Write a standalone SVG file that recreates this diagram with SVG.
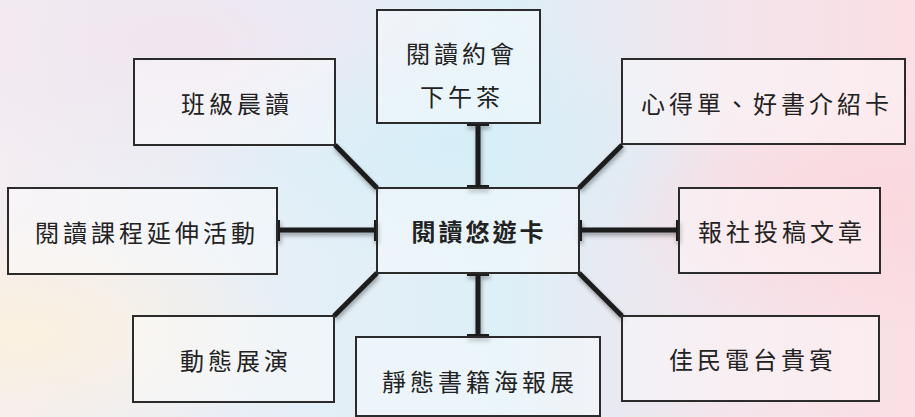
<svg xmlns="http://www.w3.org/2000/svg" width="915" height="417" viewBox="0 0 915 417">
<defs>
<linearGradient id="bg" x1="0" y1="0" x2="1" y2="0">
<stop offset="0" stop-color="#f4edf2"/>
<stop offset="0.35" stop-color="#e4eff7"/>
<stop offset="0.55" stop-color="#ddeff7"/>
<stop offset="0.8" stop-color="#f4e4eb"/>
<stop offset="1" stop-color="#fadfe4"/>
</linearGradient>
<radialGradient id="rTL" cx="0.2" cy="0.1" r="0.35">
<stop offset="0" stop-color="#f1e4ef" stop-opacity="0.9"/>
<stop offset="1" stop-color="#f1e4ef" stop-opacity="0"/>
</radialGradient>
<radialGradient id="rBL" cx="0.02" cy="0.8" r="0.3">
<stop offset="0" stop-color="#fbf1df" stop-opacity="1"/>
<stop offset="1" stop-color="#fbf1df" stop-opacity="0"/>
</radialGradient>
<radialGradient id="rC" cx="0.5" cy="0.35" r="0.3">
<stop offset="0" stop-color="#d6eef8" stop-opacity="0.9"/>
<stop offset="1" stop-color="#d6eef8" stop-opacity="0"/>
</radialGradient>
<radialGradient id="rR" cx="0.97" cy="0.5" r="0.3">
<stop offset="0" stop-color="#fad8de" stop-opacity="1"/>
<stop offset="1" stop-color="#fad8de" stop-opacity="0"/>
</radialGradient>
<filter id="sh" x="-20%" y="-50%" width="140%" height="200%">
<feDropShadow dx="1" dy="3" stdDeviation="2" flood-color="#000" flood-opacity="0.35"/>
</filter>
</defs>
<style>
.box{fill:#ffffff;fill-opacity:0.4;stroke:#2b2b2b;stroke-width:2}
.t{font-family:"Noto Sans CJK TC","Noto Sans CJK SC",sans-serif;font-size:24px;fill:#222;letter-spacing:4px;text-anchor:middle;dominant-baseline:central}
.tb{font-weight:bold;letter-spacing:3px}
.c{stroke:#1c1c1c;stroke-width:5;fill:none}
.cap{stroke:#1c1c1c;stroke-width:4;fill:none}
</style>
<rect width="915" height="417" fill="url(#bg)"/>
<rect width="915" height="417" fill="url(#rTL)"/>
<rect width="915" height="417" fill="url(#rBL)"/>
<rect width="915" height="417" fill="url(#rC)"/>
<rect width="915" height="417" fill="url(#rR)"/>

<g id="connectors" filter="url(#sh)">
<line class="c" x1="478" y1="123" x2="478" y2="188"/>
<line class="cap" x1="467" y1="124" x2="489" y2="124"/>
<line class="cap" x1="467" y1="187" x2="489" y2="187"/>
<line class="c" x1="478" y1="273" x2="478" y2="337"/>
<line class="cap" x1="467" y1="274" x2="489" y2="274"/>
<line class="cap" x1="467" y1="336" x2="489" y2="336"/>
<line class="c" x1="277" y1="230" x2="377" y2="230"/>
<line class="cap" x1="278" y1="220" x2="278" y2="241"/>
<line class="cap" x1="376" y1="220" x2="376" y2="241"/>
<line class="c" x1="579" y1="230" x2="679" y2="230"/>
<line class="cap" x1="580" y1="220" x2="580" y2="241"/>
<line class="cap" x1="678" y1="220" x2="678" y2="241"/>
<line class="c" x1="335" y1="145" x2="377" y2="188"/>
<line class="c" x1="579" y1="188" x2="622" y2="145"/>
<line class="c" x1="377" y1="273" x2="334" y2="316"/>
<line class="c" x1="579" y1="273" x2="622" y2="316"/>
</g>

<g id="n-top">
<rect class="box" x="377" y="10" width="163" height="113"/>
<text class="t" x="462" y="52">閱讀約會</text>
<text class="t" x="462" y="95">下午茶</text>
</g>
<g id="n-center">
<rect class="box" x="377" y="188" width="202" height="85"/>
<text class="t tb" x="479" y="230">閱讀悠遊卡</text>
</g>
<g id="n-topleft">
<rect class="box" x="134" y="59" width="201" height="86"/>
<text class="t" x="237" y="102">班級晨讀</text>
</g>
<g id="n-topright">
<rect class="box" x="622" y="59" width="283" height="85"/>
<text class="t" x="767" y="102">心得單、好書介紹卡</text>
</g>
<g id="n-left">
<rect class="box" x="8" y="188" width="269" height="86"/>
<text class="t" x="147" y="231">閱讀課程延伸活動</text>
</g>
<g id="n-right">
<rect class="box" x="679" y="188" width="201" height="85"/>
<text class="t" x="782" y="230">報社投稿文章</text>
</g>
<g id="n-bottomleft">
<rect class="box" x="133" y="316" width="201" height="86"/>
<text class="t" x="236" y="359">動態展演</text>
</g>
<g id="n-bottom">
<rect class="box" x="356" y="337" width="244" height="79"/>
<text class="t" x="480" y="380">靜態書籍海報展</text>
</g>
<g id="n-bottomright">
<rect class="box" x="622" y="316" width="257" height="85"/>
<text class="t" x="753" y="358">佳民電台貴賓</text>
</g>
</svg>
